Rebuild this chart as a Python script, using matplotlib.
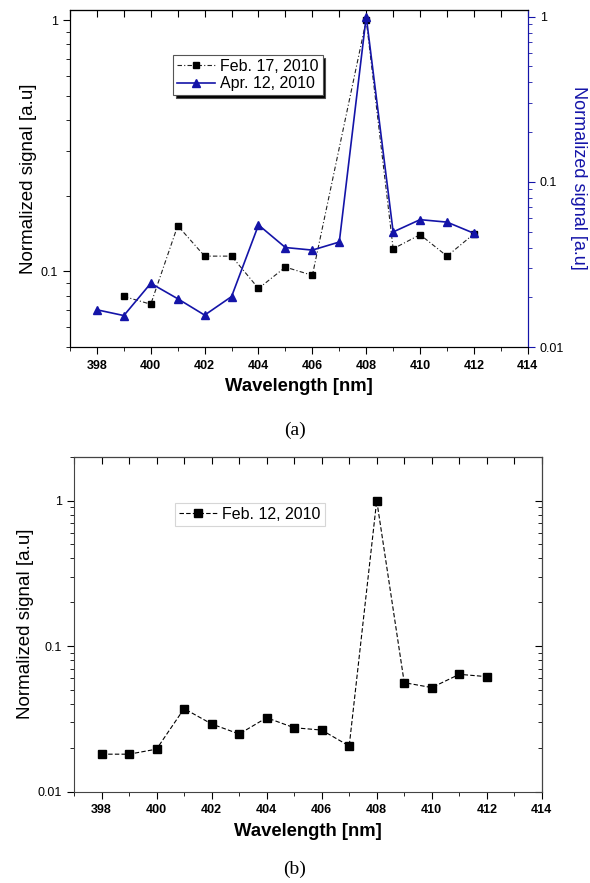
import numpy as np
from matplotlib import pyplot as plt
from matplotlib.ticker import LogLocator, FuncFormatter, NullFormatter, MultipleLocator

plt.rcParams['font.family'] = ['Liberation Sans', 'DejaVu Sans']

# (a) Feb. 17, 2010 -- left axis
wl_feb17 = [399, 400, 401, 402, 403, 404, 405, 406, 408, 409, 410, 411, 412]
sig_feb17 = [0.0795, 0.074, 0.152, 0.115, 0.115, 0.0855, 0.104, 0.0964, 1.0, 0.123, 0.14, 0.115, 0.141]

# (a) Apr. 12, 2010 -- right axis
wl_apr12 = [398, 399, 400, 401, 402, 403, 404, 405, 406, 407, 408, 409, 410, 411, 412]
sig_apr12 = [0.0168, 0.0155, 0.0243, 0.0196, 0.0156, 0.0202, 0.0548, 0.040, 0.0386, 0.0432,
             1.0, 0.0497, 0.059, 0.057, 0.0488]

# (b) Feb. 12, 2010
wl_feb12 = [398, 399, 400, 401, 402, 403, 404, 405, 406, 407, 408, 409, 410, 411, 412]
sig_feb12 = [0.0181, 0.0181, 0.0196, 0.0372, 0.0292, 0.0249, 0.0322, 0.0275, 0.0265, 0.0206,
             1.0, 0.0561, 0.0519, 0.064, 0.0617]

blue = '#1414a8'
fmt = FuncFormatter(lambda v, _: f"{v:g}")


def style_log(ax):
    ax.set_yscale('log')
    ax.yaxis.set_major_locator(LogLocator(base=10))
    ax.yaxis.set_minor_locator(LogLocator(base=10, subs=np.arange(2, 10)))
    ax.yaxis.set_major_formatter(fmt)
    ax.yaxis.set_minor_formatter(NullFormatter())


def style_x(ax):
    ax.set_xlim(397, 414)
    ax.xaxis.set_major_locator(MultipleLocator(2))
    ax.xaxis.set_minor_locator(MultipleLocator(1))
    ax.tick_params(axis='x', which='major', length=5, labelsize=9, pad=4)
    ax.tick_params(axis='x', which='minor', length=3)
    for lab in ax.get_xticklabels():
        lab.set_fontweight('bold')
    ax.set_xlabel('Wavelength [nm]', fontsize=13.3, fontweight='bold', labelpad=5)


fig = plt.figure(figsize=(5.9, 8.83), dpi=100)

# ---- (a)
ax1 = fig.add_axes([0.1186, 0.607, 0.776, 0.382])
ax1.plot(wl_feb17, sig_feb17, color='#222222', lw=0.8, ls=(0, (4, 2, 1, 2)),
         marker='s', ms=4.5, mfc='black', mec='black', label='Feb. 17, 2010')
style_log(ax1)
ax1.set_ylim(0.05, 1.1)
style_x(ax1)
ax1.tick_params(axis='y', which='major', length=5, labelsize=9)
ax1.tick_params(axis='y', which='minor', length=3)
ax1.set_ylabel('Normalized signal [a.u]', fontsize=13.5, labelpad=3)
ax1.spines['right'].set_color(blue)

sec = ax1.secondary_xaxis('top')
sec.xaxis.set_major_locator(MultipleLocator(1))
sec.tick_params(direction='in', length=5, labeltop=False)

ax2 = ax1.twinx()
ax2.plot(wl_apr12, sig_apr12, color=blue, lw=1.2, marker='^', ms=6,
         mfc=blue, mec=blue, label='Apr. 12, 2010')
style_log(ax2)
ax2.set_ylim(0.01, 1.1)
ax2.spines['right'].set_color(blue)
ax2.tick_params(axis='y', which='major', length=5, labelsize=9, color=blue)
ax2.tick_params(axis='y', which='minor', length=3, color=blue)
ax2.set_ylabel('Normalized signal [a.u]', fontsize=13, color=blue, rotation=270,
               va='center', ha='center')
ax2.yaxis.set_label_coords(1.11, 0.5)

h1, l1 = ax1.get_legend_handles_labels()
h2, l2 = ax2.get_legend_handles_labels()
leg = ax2.legend(h1 + h2, l1 + l2, loc='upper left', bbox_to_anchor=(0.225, 0.866),
                 borderaxespad=0, fontsize=11.5, frameon=True, fancybox=False,
                 shadow={'facecolor': 'black', 'alpha': 1},
                 borderpad=0.25, handlelength=2.4, handletextpad=0.3, labelspacing=0.15)
leg.get_frame().set_edgecolor('#555555')
leg.get_frame().set_linewidth(0.8)

fig.text(0.5, 0.513, '(a)', ha='center', va='center', fontsize=14, family='Liberation Serif')

# ---- (b)
ax3 = fig.add_axes([0.1254, 0.1034, 0.793, 0.3794])
ax3.plot(wl_feb12, sig_feb12, color='black', lw=0.8, ls=(0, (4, 2)),
         marker='s', ms=6, mfc='black', mec='black', label='Feb. 12, 2010')
style_log(ax3)
ax3.set_ylim(0.01, 2.0)
style_x(ax3)
ax3.tick_params(axis='y', which='major', length=5, labelsize=9)
ax3.tick_params(axis='y', which='minor', length=3)
ax3.set_ylabel('Normalized signal [a.u]', fontsize=13.5, labelpad=3)
for s in ax3.spines.values():
    s.set_color('#444444')
sec3 = ax3.secondary_xaxis('top')
sec3.xaxis.set_major_locator(MultipleLocator(1))
sec3.tick_params(direction='in', length=5, labeltop=False)
ax3r = ax3.secondary_yaxis('right')
ax3r.yaxis.set_major_locator(LogLocator(base=10))
ax3r.yaxis.set_minor_locator(LogLocator(base=10, subs=np.arange(2, 10)))
ax3r.tick_params(which='both', direction='in', labelright=False)
ax3r.tick_params(which='major', length=5)
ax3r.tick_params(which='minor', length=3)

leg3 = ax3.legend(loc='upper left', bbox_to_anchor=(0.216, 0.862), borderaxespad=0,
                  fontsize=11.5, frameon=True, fancybox=False, borderpad=0.25,
                  handlelength=2.4, handletextpad=0.3)
leg3.get_frame().set_edgecolor('#cccccc')
leg3.get_frame().set_linewidth(0.8)

fig.text(0.5, 0.015, '(b)', ha='center', va='center', fontsize=14, family='Liberation Serif')

fig.savefig('out.png', dpi=100)
